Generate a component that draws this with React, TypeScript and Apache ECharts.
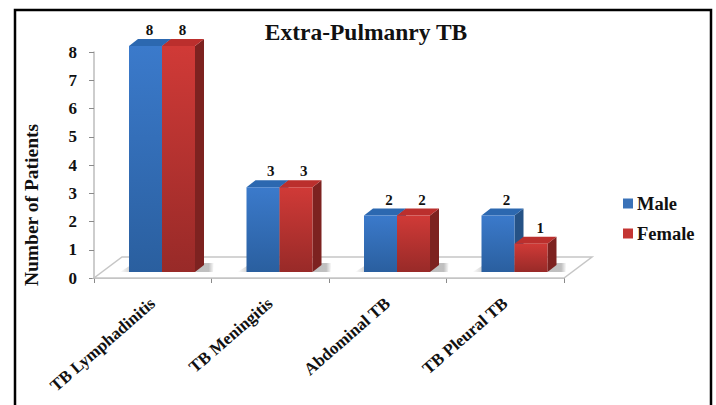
import React, { useEffect, useRef } from "react";
import * as echarts from "echarts";

const categories = ["TB Lymphadinitis", "TB Meningitis", "Abdominal TB", "TB Pleural TB"];
const maleValues = [8, 3, 2, 2];
const femaleValues = [8, 3, 2, 1];
const yTicks = { min: 0, max: 8, interval: 1 };

const FONT = '"Liberation Serif", "Times New Roman", serif';

function grad(a: string, b: string) {
  return new echarts.graphic.LinearGradient(0, 0, 0, 1, [
    { offset: 0, color: a },
    { offset: 1, color: b },
  ]);
}

const BLUE = { front: ["#3b7acb", "#2a5f9f"], side: "#255286", top: "#2c68b0", legend: "#3a72b8" };
const RED = { front: ["#d03a37", "#982a28"], side: "#7d2220", top: "#bb2f2d", legend: "#c43533" };

const BASE_LIFT = 6;
const BAR_W = 33;
const DEPTH_X = 9;
const DEPTH_Y = 7;

function barRenderer(colors: typeof BLUE, side: number) {
  return (_params: any, api: any) => {
    const idx = api.value(0);
    const val = api.value(1);
    const base = api.coord([idx, 0]);
    const top = api.coord([idx, val]);
    const x0 = base[0] + 9.25 + (side === 0 ? -BAR_W : 0);
    const x1 = x0 + BAR_W;
    const yb = base[1] - BASE_LIFT;
    const yt = top[1] - BASE_LIFT;
    const dx = DEPTH_X;
    const dy = DEPTH_Y;
    const shadow = new echarts.graphic.LinearGradient(0, 0, 1, 0, [
      { offset: 0, color: "rgba(140,140,140,0)" },
      { offset: 0.2, color: "rgba(140,140,140,0.55)" },
      { offset: 0.75, color: "rgba(140,140,140,0.55)" },
      { offset: 1, color: "rgba(140,140,140,0)" },
    ]);
    return {
      type: "group",
      children: [
        {
          type: "polygon",
          shape: {
            points: side === 0
              ? [[x0 - 9, yb], [x1 + 2, yb], [x1 + 2, yb - dy], [x0 + 2, yb - dy]]
              : [[x1 - 2, yb], [x1 + dx + 9, yb], [x1 + dx + 10, yb - dy - 2], [x1 - 2, yb - dy - 2]],
          },
          style: {
            fill: side === 0
              ? new echarts.graphic.LinearGradient(0, 0, 1, 0, [
                  { offset: 0, color: "rgba(140,140,140,0)" },
                  { offset: 0.3, color: "rgba(140,140,140,0.5)" },
                  { offset: 1, color: "rgba(140,140,140,0.5)" },
                ])
              : shadow,
          },
        },
        {
          type: "polygon",
          shape: { points: [[x1, yt], [x1 + dx, yt - dy], [x1 + dx, yb - dy], [x1, yb]] },
          style: { fill: colors.side },
        },
        {
          type: "polygon",
          shape: { points: [[x0, yt], [x0 + dx, yt - dy], [x1 + dx, yt - dy], [x1, yt]] },
          style: { fill: colors.top },
        },
        {
          type: "rect",
          shape: { x: x0, y: yt, width: BAR_W, height: yb - yt },
          style: { fill: grad(colors.front[0], colors.front[1]) },
        },
        {
          type: "text",
          style: {
            text: String(val),
            x: x0 + BAR_W / 2 + 10 - 0.75 * val,
            y: yt - 16,
            align: "center",
            verticalAlign: "middle",
            fontFamily: FONT,
            fontWeight: "bold",
            fontSize: 15,
            fill: "#111",
          },
        },
      ],
    };
  };
}

function floorRenderer(_params: any, api: any) {
  const left = api.coord([0, 0]);
  const right = api.coord([categories.length - 1, 0]);
  const band = api.size([1, 0])[0];
  const x0 = left[0] - band / 2;
  const x1 = right[0] + band / 2;
  const y = left[1];
  return {
    type: "group",
    children: [
      {
        type: "polygon",
        shape: { points: [[x0, y], [x1, y], [x1 + 28, y - 21], [x0 + 28, y - 21]] },
        style: { fill: "#ffffff", stroke: "#c6c6c6", lineWidth: 1.5 },
      },
    ],
  };
}

export default function App() {
  const ref = useRef<HTMLDivElement>(null);
  useEffect(() => {
    const chart = echarts.init(ref.current!, undefined, { renderer: "svg" });
    chart.setOption({
      animation: false,
      backgroundColor: "#ffffff",
      title: {
        text: "Extra-Pulmanry TB",
        left: 361,
        top: 15,
        textAlign: "center",
        textStyle: { fontFamily: FONT, fontWeight: "bold", fontSize: 23.5, color: "#111" },
      },
      legend: {
        data: ["Male", "Female"],
        orient: "vertical",
        left: 618,
        top: 189,
        itemWidth: 10,
        itemHeight: 10,
        itemGap: 11,
        icon: "rect",
        textStyle: { fontFamily: FONT, fontWeight: "bold", fontSize: 18.5, color: "#111", padding: [0, 0, 0, -1] },
      },
      grid: { left: 94, right: 152, top: 52, bottom: 127, containLabel: false },
      xAxis: {
        type: "category",
        data: categories,
        axisLine: { lineStyle: { color: "#bdbdbd", width: 2 } },
        axisTick: { show: true, length: 5, lineStyle: { color: "#8a8a8a" } },
        axisLabel: {
          rotate: 41,
          margin: 23,
          interval: 0,
          fontFamily: FONT,
          fontWeight: "bold",
          fontSize: 17,
          color: "#111",
        },
      },
      yAxis: {
        type: "value",
        ...yTicks,
        splitLine: { show: false },
        axisLine: { show: true, lineStyle: { color: "#bdbdbd", width: 1.5 } },
        axisTick: { show: true, length: 5, lineStyle: { color: "#8a8a8a" } },
        axisLabel: { margin: 17, fontFamily: FONT, fontWeight: "bold", fontSize: 17, color: "#111" },
      },
      graphic: [
        {
          type: "text",
          x: 31,
          y: 205,
          rotation: Math.PI / 2,
          style: {
            text: "Number of Patients",
            align: "center",
            verticalAlign: "middle",
            fontFamily: FONT,
            fontWeight: "bold",
            fontSize: 19.5,
            fill: "#111",
          },
        },
        {
          type: "polyline",
          shape: { points: [[15, 405], [15, 10], [711, 10], [711, 405]] },
          style: { stroke: "#000", lineWidth: 2.5, fill: "none" },
        },
      ],
      series: [
        {
          type: "custom",
          name: "floor",
          z: 1,
          renderItem: floorRenderer,
          encode: { x: 0, y: 1 },
          data: [[0, 0]],
          silent: true,
        },
        {
          type: "custom",
          name: "Male",
          z: 2,
          renderItem: barRenderer(BLUE, 0),
          encode: { x: 0, y: 1 },
          itemStyle: { color: BLUE.legend },
          data: maleValues.map((v, i) => [i, v]),
        },
        {
          type: "custom",
          name: "Female",
          z: 3,
          renderItem: barRenderer(RED, 1),
          encode: { x: 0, y: 1 },
          itemStyle: { color: RED.legend },
          data: femaleValues.map((v, i) => [i, v]),
        },
      ],
    });
    return () => chart.dispose();
  }, []);
  return <div ref={ref} style={{ position: "absolute", left: 0, top: 0, width: 716, height: 405 }} />;
}
